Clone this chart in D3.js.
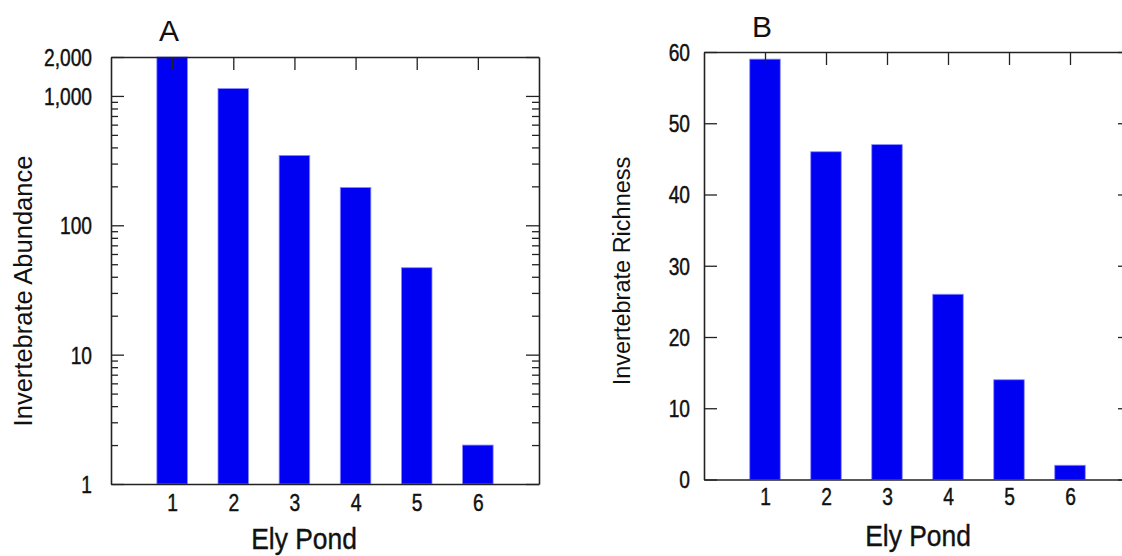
<!DOCTYPE html>
<html>
<head>
<meta charset="utf-8">
<script src="https://cdn.jsdelivr.net/npm/d3@7"></script>
<style>
  html, body { margin: 0; padding: 0; background: #fff; }
  svg { display: block; }
</style>
</head>
<body>
<svg id="chart" width="1122" height="556"></svg>
<script>
// ---------- data ----------
const ponds = [1, 2, 3, 4, 5, 6];
const abundance = [2000, 1140, 347, 196, 47, 2];
const richness = [59, 46, 47, 26, 14, 2];

const abundanceTicks = [1, 10, 100, 1000, 2000];
const abundanceTickLabels = ["1", "10", "100", "1,000", "2,000"];
const abundanceMinorTicks = [2, 3, 4, 5, 6, 7, 8, 9,
  20, 30, 40, 50, 60, 70, 80, 90,
  200, 300, 400, 500, 600, 700, 800, 900];
const richnessTicks = [0, 10, 20, 30, 40, 50, 60];
const richnessTickLabels = ["0", "10", "20", "30", "40", "50", "60"];

const panelLetters = ["A", "B"];
const xTitle = "Ely Pond";
const yTitles = ["Invertebrate Abundance", "Invertebrate Richness"];

// ---------- layout ----------
const svg = d3.select("#chart");
const FONT = '"Liberation Sans", Arial, sans-serif';
const barColor = "#0000f2";
const axisColor = "#222";
const narrow = 0.8;   // horizontal squeeze for condensed-looking tick text
const tickFontSize = 24;

function styleTickText(sel) {
  sel.style("font-family", FONT)
     .style("font-size", tickFontSize + "px")
     .style("fill", "#111")
     .style("stroke", "#111")
     .style("stroke-width", "0.45px");
}

function drawPanel(cfg) {
  const g = svg.append("g");
  const x = d3.scaleLinear().domain([0, 7]).range([cfg.left, cfg.right]);
  const y = cfg.y;
  const bw = x(0.5) - x(0);

  // bars
  g.selectAll("rect.bar").data(cfg.values).enter().append("rect")
    .attr("class", "bar")
    .attr("x", (d, i) => x(ponds[i]) - bw / 2)
    .attr("width", bw)
    .attr("y", d => y(d))
    .attr("height", d => y(cfg.base) - y(d))
    .attr("fill", barColor)
    .attr("stroke", "#8a8aff")
    .attr("stroke-width", 0.8);

  const style = sel => {
    sel.selectAll("path.domain").attr("stroke", axisColor).attr("stroke-width", 1.6);
    sel.selectAll(".tick line").attr("stroke", axisColor).attr("stroke-width", 1.3);
  };

  // minor ticks (left & right)
  if (cfg.minor) {
    g.append("g").attr("transform", `translate(${cfg.left},0)`)
      .call(d3.axisLeft(y).tickValues(cfg.minor).tickSize(-7).tickSizeOuter(0).tickFormat(""))
      .call(style).call(s => s.select("path.domain").remove());
    g.append("g").attr("transform", `translate(${cfg.right},0)`)
      .call(d3.axisRight(y).tickValues(cfg.minor).tickSize(-7).tickSizeOuter(0).tickFormat(""))
      .call(style).call(s => s.select("path.domain").remove());
  }

  // left axis with labels
  g.append("g").attr("transform", `translate(${cfg.left},0)`)
    .call(d3.axisLeft(y).tickValues(cfg.ticks).tickSize(-13).tickSizeOuter(0)
      .tickPadding(cfg.yPad)
      .tickFormat((d, i) => cfg.tickLabels[i]))
    .call(style)
    .call(s => s.selectAll(".tick text")
      .call(styleTickText)
      .attr("x", -cfg.yPad / narrow)
      .attr("dy", "0.35em")
      .attr("transform", `scale(${narrow},1)`));

  // right axis
  g.append("g").attr("transform", `translate(${cfg.right},0)`)
    .call(d3.axisRight(y).tickValues(cfg.ticks).tickSize(-13).tickSizeOuter(0).tickFormat(""))
    .call(style);

  // top axis
  g.append("g").attr("transform", `translate(0,${cfg.top})`)
    .call(d3.axisTop(x).tickValues(ponds).tickSize(-13).tickSizeOuter(0).tickFormat(""))
    .call(style);

  // bottom axis
  g.append("g").attr("transform", `translate(0,${cfg.bottom})`)
    .call(d3.axisBottom(x).tickValues(ponds).tickSize(0).tickSizeOuter(0)
      .tickPadding(cfg.xPad).tickFormat(d3.format("d")))
    .call(style)
    .call(s => s.selectAll(".tick text")
      .call(styleTickText)
      .attr("transform", `scale(${narrow},1)`));

  // titles
  g.append("text")
    .attr("transform", `translate(${cfg.xTitleX},${cfg.xTitleY}) scale(0.88,1)`)
    .attr("text-anchor", "middle")
    .style("font-family", FONT).style("font-size", "30px").style("fill", "#111")
    .style("stroke", "#111").style("stroke-width", "0.4px")
    .text(xTitle);
  g.append("text")
    .attr("transform", `translate(${cfg.yTitleX},${cfg.yTitleY}) rotate(-90)`)
    .attr("text-anchor", "middle")
    .style("font-family", FONT).style("font-size", cfg.yTitleSize + "px").style("fill", "#111")
    .text(cfg.yTitle);
  g.append("text")
    .attr("x", cfg.letterX).attr("y", cfg.letterY)
    .attr("text-anchor", "middle")
    .style("font-family", FONT).style("font-size", "30px").style("fill", "#111")
    .text(cfg.letter);
}

drawPanel({
  left: 111, right: 539, top: 57, bottom: 484,
  y: d3.scaleLog().domain([1, 2000]).range([484, 57]),
  base: 1,
  values: abundance,
  ticks: abundanceTicks, tickLabels: abundanceTickLabels,
  minor: abundanceMinorTicks,
  yPad: 19, xPad: 10,
  xTitleX: 304, xTitleY: 549,
  yTitleX: 32, yTitleY: 291, yTitle: yTitles[0], yTitleSize: 25.5,
  letter: panelLetters[0], letterX: 169, letterY: 41
});

drawPanel({
  left: 704, right: 1131, top: 52, bottom: 479.5,
  y: d3.scaleLinear().domain([0, 60]).range([479.5, 52]),
  base: 0,
  values: richness,
  ticks: richnessTicks, tickLabels: richnessTickLabels,
  minor: null,
  yPad: 14, xPad: 8,
  xTitleX: 918, xTitleY: 546,
  yTitleX: 630, yTitleY: 271, yTitle: yTitles[1], yTitleSize: 23.5,
  letter: panelLetters[1], letterX: 762, letterY: 37
});
</script>
</body>
</html>
